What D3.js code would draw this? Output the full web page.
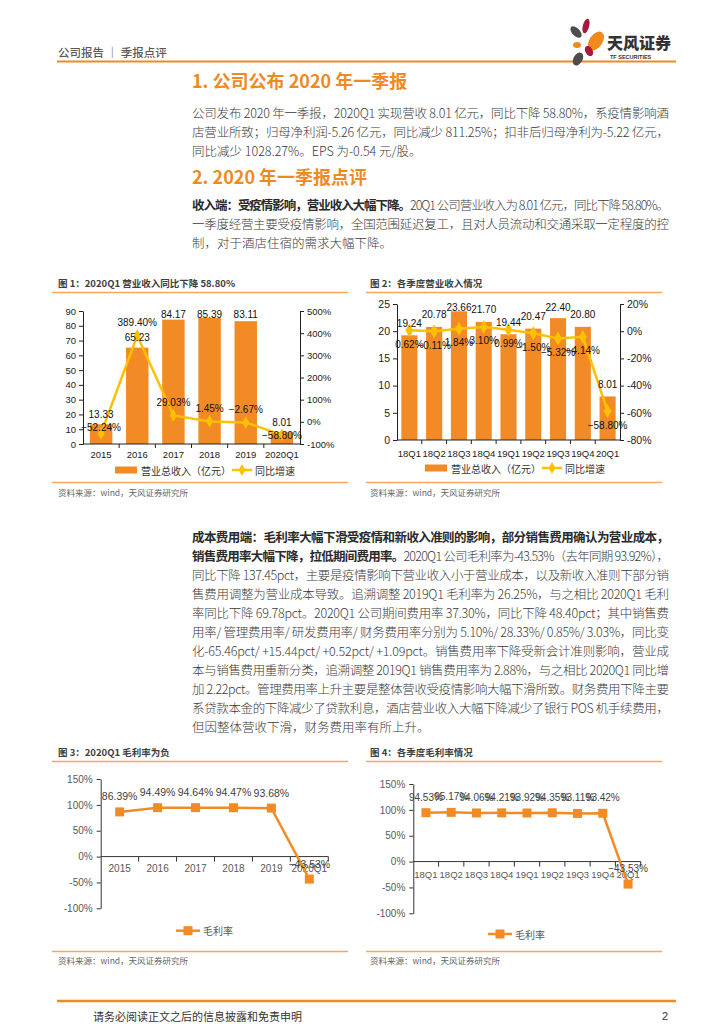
<!DOCTYPE html>
<html><head><meta charset="utf-8">
<script src="https://cdn.jsdelivr.net/npm/d3@7"></script>
<style>body{margin:0;background:#fff} svg{display:block}</style>
</head><body><svg id="page" width="724" height="1024"></svg>
<script>
// ---------------- data ----------------
const years = ["2015","2016","2017","2018","2019","2020Q1"];
const revenueAnnual = [13.33,65.23,84.17,85.39,83.11,8.01];
const growthAnnual = [-52.24,389.40,29.03,1.45,-2.67,-58.80];
const revTicksAnnual = [0,10,20,30,40,50,60,70,80,90];
const growthTicksAnnual = [-100,0,100,200,300,400,500];

const quarters = ["18Q1","18Q2","18Q3","18Q4","19Q1","19Q2","19Q3","19Q4","20Q1"];
const revenueQuarterly = [19.24,20.78,23.66,21.70,19.44,20.47,22.40,20.80,8.01];
const growthQuarterly = [0.62,-0.11,1.84,3.10,0.99,-1.50,-5.32,-4.14,-58.80];
const revTicksQuarterly = [0,5,10,15,20,25];
const growthTicksQuarterly = [-80,-60,-40,-20,0,20];

const marginAnnual = [86.39,94.49,94.64,94.47,93.68,-43.53];
const marginQuarterly = [94.53,95.17,94.06,94.21,93.92,94.35,93.11,93.42,-43.53];
const marginTicks = [-100,-50,0,50,100,150];

const barSeriesName = "营业总收入（亿元）";
const lineSeriesName = "同比增速";
const marginSeriesName = "毛利率";

// ---------------- text ----------------
const headerText = "公司报告 ｜ 季报点评";
const title1 = "1. 公司公布 2020 年一季报";
const title2 = "2. 2020 年一季报点评";
const para1 = [
  [{t:"公司发布 2020 年一季报，2020Q1 实现营收 8.01 亿元，同比下降 58.80%，系疫情影响酒"}],
  [{t:"店营业所致；归母净利润-5.26 亿元，同比减少 811.25%；扣非后归母净利为-5.22 亿元，"}],
  [{t:"同比减少 1028.27%。EPS 为-0.54 元/股。"}]
];
const para2 = [
  [{t:"收入端：受疫情影响，营业收入大幅下降。",b:true},{t:"20Q1 公司营业收入为 8.01 亿元，同比下降 58.80%。"}],
  [{t:"一季度经营主要受疫情影响，全国范围延迟复工，且对人员流动和交通采取一定程度的控"}],
  [{t:"制，对于酒店住宿的需求大幅下降。"}]
];
const para3 = [
  [{t:"成本费用端：毛利率大幅下滑受疫情和新收入准则的影响，部分销售费用确认为营业成本，",b:true}],
  [{t:"销售费用率大幅下降，拉低期间费用率。",b:true},{t:"2020Q1 公司毛利率为-43.53%（去年同期 93.92%），"}],
  [{t:"同比下降 137.45pct，主要是疫情影响下营业收入小于营业成本，以及新收入准则下部分销"}],
  [{t:"售费用调整为营业成本导致。追溯调整 2019Q1 毛利率为 26.25%，与之相比 2020Q1 毛利"}],
  [{t:"率同比下降 69.78pct。2020Q1 公司期间费用率 37.30%，同比下降 48.40pct；其中销售费"}],
  [{t:"用率/ 管理费用率/ 研发费用率/ 财务费用率分别为 5.10%/ 28.33%/ 0.85%/ 3.03%，同比变"}],
  [{t:"化-65.46pct/ +15.44pct/ +0.52pct/ +1.09pct。销售费用率下降受新会计准则影响，营业成"}],
  [{t:"本与销售费用重新分类，追溯调整 2019Q1 销售费用率为 2.88%，与之相比 2020Q1 同比增"}],
  [{t:"加 2.22pct。管理费用率上升主要是整体营收受疫情影响大幅下滑所致。财务费用下降主要"}],
  [{t:"系贷款本金的下降减少了贷款利息，酒店营业收入大幅下降减少了银行 POS 机手续费用，"}],
  [{t:"但因整体营收下滑，财务费用率有所上升。"}]
];
const figTitles = ["图 1：2020Q1 营业收入同比下降 58.80%","图 2：各季度营业收入情况","图 3：2020Q1 毛利率为负","图 4：各季度毛利率情况"];
const sourceText = "资料来源：wind，天风证券研究所";
const footerText = "请务必阅读正文之后的信息披露和免责申明";
const pageNumber = "2";

// ---------------- style ----------------
const ORANGE = "#EF8A22";
const BAR = "#F28B26";
const YELLOW = "#FFC000";
const LIGHT_OR = "#F5A858";
const CJK = "'Noto Sans CJK SC','Noto Sans',sans-serif";
const NUM = "'Liberation Sans',Arial,sans-serif";

const svg = d3.select("#page");
svg.append("rect").attr("width",724).attr("height",1024).attr("fill","#fff");

// ---------------- header ----------------
svg.append("text").attr("x",58).attr("y",52).attr("dominant-baseline","central")
  .attr("font-family",CJK).attr("font-size",11.5).attr("font-weight",500).attr("fill","#595959")
  .text(headerText);
svg.append("line").attr("x1",57).attr("x2",676).attr("y1",61.5).attr("y2",61.5)
  .attr("stroke",ORANGE).attr("stroke-width",2);

// logo
const logo = svg.append("g");
const petals = [
  {cx:576,cy:32,rx:3.8,ry:7,rot:-45,c:"#4D4D4D"},
  {cx:586,cy:26,rx:3.2,ry:7.5,rot:15,c:"#A8173C"},
  {cx:596,cy:41,rx:6.5,ry:10.5,rot:35,c:"#F0891E"},
  {cx:577,cy:45,rx:4,ry:3,rot:0,c:"#F0891E"},
  {cx:589,cy:51,rx:3.6,ry:5.5,rot:-30,c:"#A8173C"},
  {cx:578,cy:59,rx:4.5,ry:7,rot:30,c:"#4D4D4D"}
];
petals.forEach(p=>logo.append("ellipse").attr("cx",p.cx).attr("cy",p.cy).attr("rx",p.rx).attr("ry",p.ry)
  .attr("transform",`rotate(${p.rot},${p.cx},${p.cy})`).attr("fill",p.c));
logo.append("text").attr("x",607).attr("y",42).attr("dominant-baseline","central")
  .attr("font-family",CJK).attr("font-size",16).attr("font-weight",900).attr("fill","#333").text("天风证券");
logo.append("text").attr("x",610).attr("y",56.5).attr("dominant-baseline","central")
  .attr("font-family",NUM).attr("font-size",5.5).attr("font-weight",700).attr("fill","#333").text("TF SECURITIES");

// ---------------- titles & paragraphs ----------------
function heading(txt,y){
  svg.append("text").attr("x",192).attr("y",y).attr("dominant-baseline","central")
    .attr("font-family",CJK).attr("font-size",18).attr("font-weight",700).attr("fill",ORANGE).text(txt);
}
function para(lines,y0){
  const lh = 19;
  lines.forEach((segs,i)=>{
    const t = svg.append("text").attr("x",192).attr("y",y0+i*lh).attr("dominant-baseline","central")
      .attr("font-family",CJK).attr("font-size",12.5).attr("fill","#3a3a3a");
    segs.forEach(s=>t.append("tspan").text(s.t).attr("font-weight",s.b?700:300).attr("fill",s.b?"#2a2a2a":"#3a3a3a"));
    if(i<lines.length-1) t.attr("textLength",477).attr("lengthAdjust","spacing");
  });
}
heading(title1,80);
para(para1,112);
heading(title2,176);
para(para2,204);
para(para3,536);

// ---------------- figure frames ----------------
function frame(title,x,xl1,xl2,yTitle,yLine,yBottom,ySource){
  svg.append("text").attr("x",x).attr("y",yTitle).attr("dominant-baseline","central")
    .attr("font-family",CJK).attr("font-size",9.5).attr("font-weight",700).attr("fill","#404040").text(title);
  svg.append("line").attr("x1",xl1).attr("x2",xl2).attr("y1",yLine).attr("y2",yLine).attr("stroke",LIGHT_OR).attr("stroke-width",1.5);
  svg.append("line").attr("x1",xl1).attr("x2",xl2).attr("y1",yBottom).attr("y2",yBottom).attr("stroke",LIGHT_OR).attr("stroke-width",1.5);
  svg.append("text").attr("x",x).attr("y",ySource).attr("dominant-baseline","central")
    .attr("font-family",CJK).attr("font-size",8.5).attr("fill","#666").text(sourceText);
}
frame(figTitles[0],58,52,348,283,292.5,482.5,492);
frame(figTitles[1],370,366,662,283,292.5,482.5,492);
frame(figTitles[2],58,52,348,752,761.5,951.5,960);
frame(figTitles[3],370,366,662,752,761.5,951.5,960);

// ---------------- combo charts ----------------
const pct2 = v => d3.format(".2f")(v)+"%";
function combo(o){
  const g = svg.append("g");
  const x = d3.scaleBand().domain(o.cats).range([o.x0,o.x1]).paddingInner(o.pad).paddingOuter(o.pad/2);
  const yL = d3.scaleLinear().domain(o.lDom).range([o.yBot,o.yTop]);
  const yR = d3.scaleLinear().domain(o.rDom).range([o.yBot,o.yTop]);
  const cx = c => x(c)+x.bandwidth()/2;
  g.selectAll(".bar").data(o.bars).enter().append("rect")
    .attr("x",(d,i)=>x(o.cats[i])).attr("width",x.bandwidth())
    .attr("y",d=>yL(d)).attr("height",d=>yL(0)-yL(d)).attr("fill",BAR);
  const axL = g.append("g").attr("transform",`translate(${o.x0},0)`)
    .call(d3.axisLeft(yL).tickValues(o.lTicks).tickSize(4).tickSizeOuter(0).tickPadding(3).tickFormat(d3.format("d")));
  const axR = g.append("g").attr("transform",`translate(${o.x1},0)`)
    .call(d3.axisRight(yR).tickValues(o.rTicks).tickSize(4).tickSizeOuter(0).tickPadding(3).tickFormat(d=>d+"%"));
  [axL,axR].forEach(a=>{
    a.selectAll("path,line").attr("stroke","#222").attr("stroke-width",1);
    a.selectAll("text").attr("font-family",NUM).attr("font-size",o.fsAx).attr("fill","#222");
  });
  g.append("line").attr("x1",o.x0).attr("x2",o.x1).attr("y1",o.yBot).attr("y2",o.yBot).attr("stroke","#222");
  o.cats.forEach((c,i)=>{
    if(i>0){ const bx = o.x0 + i*x.step(); g.append("line").attr("x1",bx).attr("x2",bx).attr("y1",o.yBot).attr("y2",o.yBot+4).attr("stroke","#222"); }
    g.append("text").attr("x",cx(c)).attr("y",o.xLabY).attr("text-anchor","middle").attr("dominant-baseline","central")
      .attr("font-family",NUM).attr("font-size",o.fs).attr("fill","#222").text(c);
  });
  const pts = o.line.map((v,i)=>[cx(o.cats[i]),yR(v)]);
  g.append("path").attr("d",d3.line()(pts)).attr("fill","none").attr("stroke",YELLOW).attr("stroke-width",2.5);
  g.selectAll(".mk").data(pts).enter().append("path")
    .attr("d",d3.symbol(d3.symbolDiamond,o.mk)()).attr("transform",d=>`translate(${d[0]},${d[1]})`).attr("fill",YELLOW);
  const barLabY = o.bars.map(v=>Math.max(yL(v)-o.barOff,o.yTop+3));
  o.bars.forEach((v,i)=>g.append("text").attr("x",cx(o.cats[i])).attr("y",barLabY[i])
    .attr("text-anchor","middle").attr("dominant-baseline","central")
    .attr("font-family",NUM).attr("font-size",o.fsLab).attr("fill","#111").text(d3.format(".2f")(v)));
  o.line.forEach((v,i)=>{
    let y = o.lineBelow ? yR(v)+14 : yR(v)-13;
    if(!o.lineBelow && Math.abs(y-barLabY[i])<12) y = barLabY[i]+13;
    g.append("text").attr("x",cx(o.cats[i])).attr("y",y).attr("text-anchor","middle").attr("dominant-baseline","central")
      .attr("font-family",NUM).attr("font-size",o.fsLab).attr("fill","#111").text(pct2(v));
  });
  g.append("rect").attr("x",o.lg[0]).attr("y",o.lgY-3.5).attr("width",22).attr("height",7).attr("fill",BAR);
  g.append("text").attr("x",o.lg[0]+26).attr("y",o.lgY).attr("dominant-baseline","central")
    .attr("font-family",CJK).attr("font-size",10).attr("fill","#333").text(barSeriesName);
  g.append("line").attr("x1",o.lg[1]).attr("x2",o.lg[1]+20).attr("y1",o.lgY).attr("y2",o.lgY).attr("stroke",YELLOW).attr("stroke-width",2.5);
  g.append("path").attr("d",d3.symbol(d3.symbolDiamond,40)()).attr("transform",`translate(${o.lg[1]+10},${o.lgY})`).attr("fill",YELLOW);
  g.append("text").attr("x",o.lg[1]+23).attr("y",o.lgY).attr("dominant-baseline","central")
    .attr("font-family",CJK).attr("font-size",10).attr("fill","#333").text(lineSeriesName);
}

combo({cats:years,bars:revenueAnnual,line:growthAnnual,x0:83,x1:300,yTop:311,yBot:444,
  lDom:[0,90],rDom:[-100,500],lTicks:revTicksAnnual,rTicks:growthTicksAnnual,pad:0.38,
  fsAx:9.5,fs:9.5,fsLab:10,xLabY:454,barOff:10,lineBelow:false,mk:45,lg:[115,232],lgY:470});
combo({cats:quarters,bars:revenueQuarterly,line:growthQuarterly,x0:397,x1:620,yTop:304,yBot:440,
  lDom:[0,25],rDom:[-80,20],lTicks:revTicksQuarterly,rTicks:growthTicksQuarterly,pad:0.35,
  fsAx:10.5,fs:9.5,fsLab:10,xLabY:453,barOff:12,lineBelow:true,mk:55,lg:[425,542],lgY:468});

// ---------------- margin line charts ----------------
function marginChart(o){
  const g = svg.append("g");
  const x = d3.scaleBand().domain(o.cats).range([o.x0,o.x1]);
  const y = d3.scaleLinear().domain([-100,150]).range([o.yBot,o.yTop]);
  const cx = c => x(c)+x.bandwidth()/2;
  const ax = g.append("g").attr("transform",`translate(${o.x0},0)`)
    .call(d3.axisLeft(y).tickValues(marginTicks).tickSize(4).tickSizeOuter(0).tickPadding(4).tickFormat(d=>d+"%"));
  ax.selectAll("path,line").attr("stroke","#333");
  ax.selectAll("text").attr("font-family",NUM).attr("font-size",10).attr("fill","#595959");
  const y0 = y(0);
  g.append("line").attr("x1",o.x0).attr("x2",o.x1).attr("y1",y0).attr("y2",y0).attr("stroke","#333");
  o.cats.forEach((c,i)=>{
    const bx = o.x0+(i+1)*x.step();
    g.append("line").attr("x1",bx).attr("x2",bx).attr("y1",y0).attr("y2",y0+5).attr("stroke","#333");
    g.append("text").attr("x",cx(c)).attr("y",y0+o.xLabOff).attr("text-anchor","middle").attr("dominant-baseline","central")
      .attr("font-family",NUM).attr("font-size",o.fs).attr("fill","#595959").text(c);
  });
  const pts = o.vals.map((v,i)=>[cx(o.cats[i]),y(v)]);
  g.append("path").attr("d",d3.line()(pts)).attr("fill","none").attr("stroke",BAR).attr("stroke-width",2.5);
  g.selectAll(".sq").data(pts).enter().append("rect")
    .attr("x",d=>d[0]-4.5).attr("y",d=>d[1]-4.5).attr("width",9).attr("height",9).attr("fill",BAR);
  o.vals.forEach((v,i)=>g.append("text").attr("x",cx(o.cats[i])).attr("y",y(v)-15.5)
    .attr("text-anchor","middle").attr("dominant-baseline","central")
    .attr("font-family",NUM).attr("font-size",o.fsLab).attr("fill","#404040").text(pct2(v)));
  g.append("line").attr("x1",o.lg).attr("x2",o.lg+24).attr("y1",o.lgY).attr("y2",o.lgY).attr("stroke",BAR).attr("stroke-width",2.5);
  g.append("rect").attr("x",o.lg+12-4.5).attr("y",o.lgY-4.5).attr("width",9).attr("height",9).attr("fill",BAR);
  g.append("text").attr("x",o.lg+27).attr("y",o.lgY).attr("dominant-baseline","central")
    .attr("font-family",CJK).attr("font-size",10).attr("fill","#595959").text(marginSeriesName);
}
marginChart({cats:years,vals:marginAnnual,x0:100.7,x1:328.3,yTop:779,yBot:908.3,fs:10,fsLab:10.5,xLabOff:11.5,lg:176,lgY:930.7});
marginChart({cats:quarters,vals:marginQuarterly,x0:413.3,x1:640.7,yTop:784,yBot:913.3,fs:9.5,fsLab:10,xLabOff:12.5,lg:488,lgY:934});

// ---------------- footer ----------------
svg.append("line").attr("x1",57).attr("x2",676).attr("y1",1001).attr("y2",1001).attr("stroke",ORANGE).attr("stroke-width",2.5);
svg.append("text").attr("x",93).attr("y",1016).attr("dominant-baseline","central")
  .attr("font-family",CJK).attr("font-size",11).attr("fill","#333").text(footerText);
svg.append("text").attr("x",668).attr("y",1016).attr("text-anchor","end").attr("dominant-baseline","central")
  .attr("font-family",NUM).attr("font-size",11).attr("fill","#333").text(pageNumber);
</script></body></html>
